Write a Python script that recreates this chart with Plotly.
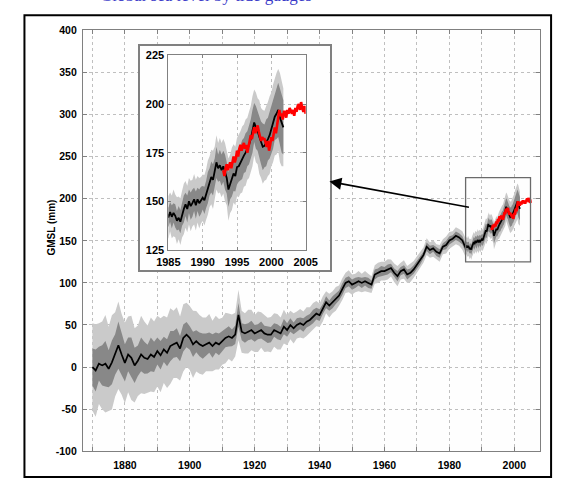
import numpy as np
import plotly.graph_objects as go

# ---------------- data ----------------
years_annual = list(range(1870, 1985))
gmsl_annual = [
    0, -4, 4, 2, 4, -2, 5.6, 15, 26, 15,
    5, 15, 11, 2, 7.5, 15, 11, 9.5, 15, 12,
    19, 14, 21, 17, 25, 27, 29, 22, 34.6, 38.5,
    34.6, 27, 30.7, 27, 25, 27, 29, 25, 29, 27,
    30.7, 34.6, 36.5, 34.6, 38.5, 62, 42, 40, 42, 44,
    40, 42, 44, 40, 38.5, 38.5, 44, 42, 40, 48,
    44, 50, 46, 50, 52, 50, 54, 56, 60, 63.5,
    61.6, 69, 77, 73, 77, 81, 85, 92.6, 100, 102,
    98, 100, 102, 100, 102, 100, 98, 110, 112, 114,
    114, 116, 117.7, 112, 108, 114, 116, 110, 112, 116,
    121.6, 127, 133, 143, 139, 141, 137, 135, 143, 145,
    150.5, 152.5, 156, 154, 150.5,
]
inner_annual = [
    22, 25, 20, 24, 27, 22, 26, 24, 28, 25,
    22, 20, 24, 21, 18, 20, 19, 17, 20, 18,
    16, 17, 15, 16, 18, 16, 17, 15, 16, 15,
    14, 15, 13, 14, 15, 13, 12, 14, 12, 13,
    12, 11, 12, 10, 11, 14, 10, 11, 10, 11,
    10, 9, 10, 9, 10, 9, 8, 9, 8, 9,
    8, 8, 7, 8, 7, 8, 7, 7, 8, 7,
    7, 6, 7, 6, 7, 6, 6, 7, 6, 6,
    6, 6, 5, 6, 5, 6, 5, 6, 5, 6,
    5, 6, 5, 5, 6, 5, 5, 6, 5, 5,
    5, 5, 4, 5, 5, 4, 5, 5, 4, 5,
    5, 4, 5, 5, 5,
]
outer_annual = [
    52, 55, 48, 52, 58, 50, 56, 50, 52, 48,
    48, 45, 50, 44, 42, 46, 43, 40, 44, 42,
    42, 44, 40, 42, 45, 40, 42, 38, 40, 38,
    38, 40, 36, 35, 34, 32, 34, 30, 32, 30,
    28, 30, 27, 28, 26, 30, 25, 24, 26, 24,
    22, 24, 21, 22, 20, 21, 20, 21, 19, 20,
    18, 17, 18, 16, 17, 16, 17, 15, 16, 15,
    14, 15, 13, 14, 13, 14, 12, 13, 12, 13,
    12, 11, 12, 11, 12, 11, 10, 11, 12, 11,
    11, 12, 10, 11, 12, 10, 11, 10, 11, 10,
    10, 10, 9, 10, 9, 10, 9, 10, 9, 10,
    10, 9, 10, 10, 11,
]

years_recent = [1985 + q / 4 for q in range(68)]
gmsl_recent = [
    141.7, 144.5, 142, 144,
    142.5, 140, 141.5, 139.5,
    143.4, 146, 148.4, 146,
    150, 147.5, 149, 151,
    148, 151, 149, 150.5,
    151.8, 150.5, 153.5, 157,
    160, 162.5, 161, 165,
    170, 167, 168.5, 166,
    168, 165, 162, 156,
    159, 161.5, 164.3, 163,
    167.6, 168, 170, 171.5,
    173.5, 175, 177, 179,
    182, 186, 190.5, 188,
    186, 183, 180, 178,
    178.5, 180, 182, 184,
    187, 190, 193.5, 195,
    197, 193, 190, 188,
]
inner_recent = [
    5, 5, 6, 5, 6, 5, 6, 6, 6, 7, 6, 7, 6, 7, 7, 6, 7, 6, 7, 7,
    6, 7, 7, 8, 7, 8, 8, 7, 8, 7, 8, 8, 8, 9, 8, 9, 8, 9, 9, 8,
    9, 8, 9, 10, 9, 10, 9, 10, 10, 11, 10, 11, 10, 11, 11, 12,
    11, 12, 11, 12, 12, 13, 12, 13, 14, 15, 15, 14,
]
outer_recent = [
    11, 10, 11, 12, 11, 12, 11, 12, 12, 13, 12, 12, 12, 13, 12, 13, 13, 12, 13, 12,
    12, 13, 13, 14, 13, 14, 15, 13, 14, 13, 14, 14, 14, 15, 14, 16, 15, 16, 15, 15,
    15, 16, 16, 17, 16, 17, 16, 17, 17, 18, 17, 18, 17, 19, 18, 19,
    18, 19, 19, 20, 19, 20, 20, 21, 21, 23, 22, 20,
]

years_altimetry = [1993 + k / 6 for k in range(73)]
gmsl_altimetry = [
    166, 163, 167, 169, 166, 168,
    170, 167, 171, 173, 170, 172,
    176, 173, 177, 179, 176, 178,
    180, 177, 179, 175, 178, 181,
    184, 182, 186, 188, 185, 187,
    189, 186, 184, 181, 183, 182,
    182, 180, 178, 181, 176, 179,
    183, 181, 186, 188, 185, 190,
    193, 197, 194, 195, 192, 196,
    196, 193, 197, 195, 198, 196,
    195, 197, 194, 198, 196, 199,
    200, 197, 201, 198, 196, 199,
    195,
]

main_xticks = list(range(1870, 2001, 10))
main_xticktext = ["", "1880", "", "1900", "", "1920", "", "1940", "", "1960", "", "1980", "", "2000"]
main_yticks = list(range(-100, 401, 50))
main_yticktext = ["-100", "-50", "0", "50", "100", "150", "200", "250", "300", "350", "400"]
inset_xticks = [1985, 1990, 1995, 2000, 2005]
inset_yticks = [125, 150, 175, 200, 225]
y_label = "GMSL (mm)"
top_text = "Global sea level by tide gauges"

# ---------------- build ----------------
years = np.array(years_annual + years_recent, dtype=float)
gmsl = np.array(gmsl_annual + gmsl_recent, dtype=float)
inner = np.array(inner_annual + inner_recent, dtype=float)
outer = np.array(outer_annual + outer_recent, dtype=float)

W, H = 565, 487
def px(x):
    return x / W
def py(y):
    return 1 - y / H

LIGHT = "#cacaca"
DARK = "#888888"
GRID = "#bfbfbf"
AXC = "#808080"
tickfont = dict(family="Liberation Sans, Arial, sans-serif", size=10.5, color="black", weight="bold")

fig = go.Figure()

def add_series(xa, ya, red_w, black_w):
    fig.add_trace(go.Scatter(x=years, y=gmsl - outer, mode="lines", line=dict(width=0),
                             hoverinfo="skip", showlegend=False, xaxis=xa, yaxis=ya))
    fig.add_trace(go.Scatter(x=years, y=gmsl + outer, mode="lines", line=dict(width=0),
                             fill="tonexty", fillcolor=LIGHT, hoverinfo="skip",
                             showlegend=False, xaxis=xa, yaxis=ya))
    fig.add_trace(go.Scatter(x=years, y=gmsl - inner, mode="lines", line=dict(width=0),
                             hoverinfo="skip", showlegend=False, xaxis=xa, yaxis=ya))
    fig.add_trace(go.Scatter(x=years, y=gmsl + inner, mode="lines", line=dict(width=0),
                             fill="tonexty", fillcolor=DARK, hoverinfo="skip",
                             showlegend=False, xaxis=xa, yaxis=ya))
    fig.add_trace(go.Scatter(x=years, y=gmsl, mode="lines", line=dict(color="black", width=black_w),
                             showlegend=False, xaxis=xa, yaxis=ya))
    fig.add_trace(go.Scatter(x=years_altimetry, y=gmsl_altimetry, mode="lines",
                             line=dict(color="#ff0000", width=red_w),
                             showlegend=False, xaxis=xa, yaxis=ya))

add_series("x", "y", 2.8, 1.7)
# empty trace for the inset frame subplot
fig.add_trace(go.Scatter(x=[None], y=[None], mode="lines", showlegend=False,
                         xaxis="x2", yaxis="y2", hoverinfo="skip"))
add_series("x3", "y3", 2.6, 1.8)

common = dict(showline=True, linecolor=AXC, linewidth=1, mirror="ticks", ticks="inside",
              ticklen=4, tickcolor=AXC, showgrid=True, gridcolor=GRID, griddash="dot",
              gridwidth=1, zeroline=False, tickfont=tickfont)

fig.update_layout(
    width=W, height=H, margin=dict(l=0, r=0, t=0, b=0),
    paper_bgcolor="white", plot_bgcolor="#fefefe",
    xaxis=dict(domain=[px(74), px(551)], range=[1867.05, 2007.8], tickmode="array",
               tickvals=main_xticks, ticktext=main_xticktext, anchor="y",
               ticklabelstandoff=4, **common),
    yaxis=dict(domain=[py(456.5), py(25)], range=[-100, 400], tickmode="array",
               tickvals=main_yticks, ticktext=main_yticktext, anchor="x",
               ticklabelstandoff=3, **common),
    xaxis2=dict(domain=[px(133.5), px(331.7)], range=[0, 1], showline=True, mirror=True,
                linecolor=AXC, linewidth=1.5, showticklabels=False, showgrid=False,
                zeroline=False, ticks="", anchor="y2", fixedrange=True),
    yaxis2=dict(domain=[py(271), py(41)], range=[0, 1], showline=True, mirror=True,
                linecolor=AXC, linewidth=1.5, showticklabels=False, showgrid=False,
                zeroline=False, ticks="", anchor="x2", fixedrange=True),
    xaxis3=dict(domain=[px(163.3), px(306.7)], range=[1985, 2005], tickmode="array",
                tickvals=inset_xticks, anchor="y3", ticklabelstandoff=2,
                **{**common, "tickfont": dict(tickfont, size=11), "ticklen": 3}),
    yaxis3=dict(domain=[py(250), py(50.7)], range=[125, 225], tickmode="array",
                tickvals=inset_yticks, anchor="x3", ticklabelstandoff=1,
                **{**common, "tickfont": dict(tickfont, size=11), "ticklen": 3}),
    shapes=[
        dict(type="rect", xref="x", yref="y", x0=1985, x1=2005, y0=125, y1=225,
             line=dict(color="#6a6a6a", width=1.3), layer="above"),
        dict(type="rect", xref="paper", yref="paper", x0=px(13), x1=px(563),
             y0=py(483), y1=py(9.5), line=dict(color="black", width=2), layer="above"),
    ],
    annotations=[
        dict(x=px(331.5), y=py(180), xref="paper", yref="paper", text="",
             showarrow=True, ax=141, ay=26, axref="pixel", ayref="pixel",
             arrowhead=2, arrowsize=1.5, arrowwidth=1.6, arrowcolor="black"),
        dict(x=px(33), y=py(227), xref="paper", yref="paper", text=y_label,
             textangle=-90, showarrow=False,
             font=dict(family="Liberation Sans, Arial, sans-serif", size=10, color="black",
                       weight="bold")),
        dict(x=px(90), y=py(1.5), xref="paper", yref="paper", text=top_text,
             xanchor="left", yanchor="bottom", showarrow=False,
             font=dict(family="Liberation Serif, serif", size=17, color="#3a3ac8")),
    ],
)

fig.write_html(
    "out.html",
    config={"displayModeBar": False},
    post_script="document.body.style.margin='0';document.body.style.overflow='hidden';",
)
